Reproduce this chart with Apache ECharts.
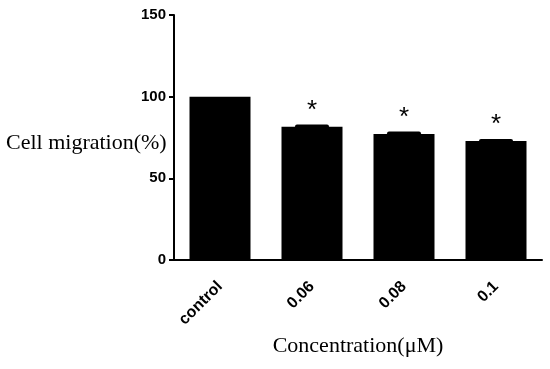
<!DOCTYPE html>
<html><head><meta charset="utf-8">
<script src="https://cdn.jsdelivr.net/npm/echarts@6/dist/echarts.min.js"></script>
<style>html,body{margin:0;padding:0;background:#fff}#c{width:550px;height:369px}</style>
</head><body><div id="c"></div>
<script>
var categories = ['control', '0.06', '0.08', '0.1'];
var values = [100, 81.6, 77.1, 72.9];
var errors = [0, 1.4, 1.5, 1.2];
var marks = ['', '*', '*', '*'];
var yTicks = [0, 50, 100, 150];

var chart = echarts.init(document.getElementById('c'));
var errData = categories.map(function (c, i) { return [i, values[i], errors[i]]; });

chart.setOption({
  animation: false,
  grid: { left: 174, top: 15, right: 8, bottom: 109, containLabel: false },
  xAxis: {
    type: 'category', data: categories,
    axisLine: { lineStyle: { color: '#000', width: 2 } },
    axisTick: { alignWithLabel: true, length: 7, lineStyle: { color: '#000', width: 2 } },
    axisLabel: { rotate: 45, margin: 24, color: '#000', fontWeight: 'bold', fontSize: 16, fontFamily: 'Liberation Sans, Arial' },
    name: 'Concentration(μM)', nameLocation: 'middle', nameGap: 75,
    nameTextStyle: { fontFamily: 'Liberation Serif, Times New Roman', fontSize: 22, color: '#000' }
  },
  yAxis: {
    type: 'value', min: yTicks[0], max: yTicks[yTicks.length - 1], interval: 50,
    splitLine: { show: false },
    axisLine: { show: true, lineStyle: { color: '#000', width: 2 } },
    axisTick: { show: true, length: 5, lineStyle: { color: '#000', width: 2 } },
    axisLabel: { margin: 8, color: '#000', fontWeight: 'bold', fontSize: 15, fontFamily: 'Liberation Sans, Arial' }
  },
  graphic: [{
    type: 'text', left: 6, top: 132,
    style: { text: 'Cell migration(%)', font: '22px "Liberation Serif", "Times New Roman"', fill: '#000' }
  }],
  series: [{
    type: 'bar', data: values, barWidth: 61,
    itemStyle: { color: '#000' }
  }, {
    type: 'custom', data: errData, z: 3,
    renderItem: function (params, api) {
      var x = api.value(0), v = api.value(1), e = api.value(2);
      var top = api.coord([x, v + e]);
      var base = api.coord([x, v]);
      var half = 17;
      var children = [];
      if (e > 0) {
        children.push({ type: 'rect', shape: { x: top[0] - half, y: top[1], width: half * 2, height: base[1] - top[1] + 1, r: [2, 2, 0, 0] }, style: { fill: '#000' } });
      }
      var m = marks[params.dataIndex];
      if (m) {
        children.push({ type: 'text', x: top[0], y: top[1] - 1, style: { text: m, font: '26px "Liberation Sans", Arial', fill: '#000', align: 'center', verticalAlign: 'bottom' } });
      }
      return { type: 'group', children: children };
    }
  }]
});
</script></body></html>
